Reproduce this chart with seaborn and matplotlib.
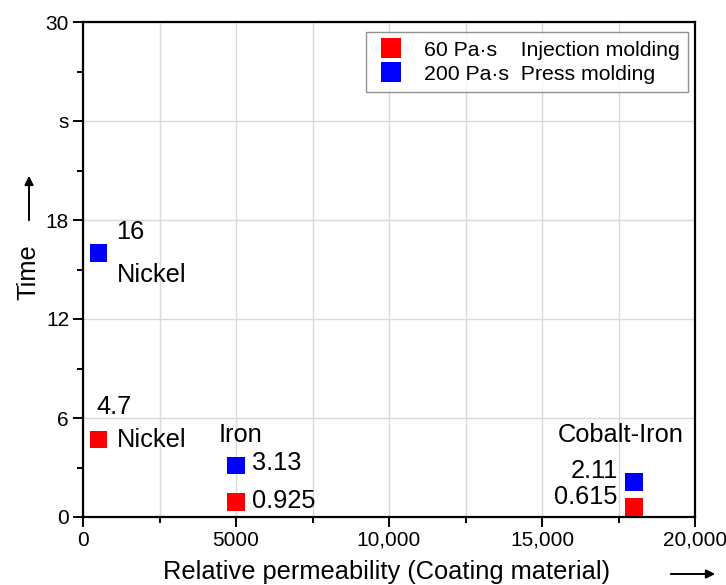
import matplotlib
matplotlib.use("Agg")
import matplotlib.pyplot as plt
import seaborn as sns
import pandas as pd
from matplotlib.ticker import FixedLocator, MultipleLocator

materials = ["Nickel", "Iron", "Cobalt-Iron"]
permeability = [500, 5000, 18000]
time_injection = [4.7, 0.925, 0.615]
time_press = [16, 3.13, 2.11]
series_labels = ["60 Pa·s    Injection molding", "200 Pa·s  Press molding"]
x_ticks = [0, 5000, 10000, 15000, 20000]
x_tick_labels = ["0", "5000", "10,000", "15,000", "20,000"]
y_ticks = [0, 6, 12, 18, 24, 30]
y_tick_labels = ["0", "6", "12", "18", "s", "30"]

df = pd.DataFrame({
    "perm": permeability * 2,
    "time": time_injection + time_press,
    "series": [series_labels[0]] * 3 + [series_labels[1]] * 3,
    "material": materials * 2,
})

sns.set_theme(style="white")
plt.rcParams["font.family"] = ["Liberation Sans", "DejaVu Sans"]
plt.rcParams["text.color"] = "black"
plt.rcParams["axes.labelcolor"] = "black"
plt.rcParams["xtick.color"] = "black"
plt.rcParams["ytick.color"] = "black"

fig = plt.figure(figsize=(7.26, 5.85), dpi=100)
ax = fig.add_axes([83/726, 1 - 517/585, (695-83)/726, (517-22)/585])

sns.scatterplot(data=df, x="perm", y="time", hue="series", marker="s", s=160,
                palette=["#ff0000", "#0000ff"], linewidth=0,
                ax=ax, zorder=3, clip_on=False)

ax.set_xlim(0, 20000)
ax.set_ylim(0, 30)
ax.xaxis.set_major_locator(FixedLocator(x_ticks))
ax.set_xticklabels(x_tick_labels)
ax.xaxis.set_minor_locator(MultipleLocator(2500))
ax.yaxis.set_major_locator(FixedLocator(y_ticks))
ax.set_yticklabels(y_tick_labels)
ax.yaxis.set_minor_locator(MultipleLocator(3))

ax.grid(True, which="major", axis="y", color="#d9d9d9", linewidth=1)
ax.grid(True, which="both", axis="x", color="#d9d9d9", linewidth=1)
ax.set_axisbelow(True)

for sp in ax.spines.values():
    sp.set_color("black")
    sp.set_linewidth(1.6)

ax.tick_params(axis="both", which="major", direction="out", length=7, width=1.4,
               labelsize=15, colors="black", pad=3)
ax.tick_params(axis="both", which="minor", direction="out", length=4, width=1.4,
               colors="black")
ax.tick_params(left=True, bottom=True, which="both")

ax.set_xlabel("")
ax.set_ylabel("")

fig.text(387/726, 1 - 572/585, "Relative permeability (Coating material)",
         ha="center", va="center", fontsize=18.3)
fig.text(28/726, 1 - 272/585, "Time", rotation=90, ha="center", va="center", fontsize=18.3)
fig.add_artist(matplotlib.patches.FancyArrowPatch(
    (668/726, 1 - 574/585), (718/726, 1 - 574/585), transform=fig.transFigure,
    arrowstyle="-|>", mutation_scale=13, color="black", linewidth=1.4))
fig.add_artist(matplotlib.patches.FancyArrowPatch(
    (29/726, 1 - 223/585), (29/726, 1 - 173/585), transform=fig.transFigure,
    arrowstyle="-|>", mutation_scale=13, color="black", linewidth=1.4))

fs = 18.3
def lab(txt, x, y, dx, dy, ha="left"):
    ax.annotate(txt, (x, y), xytext=(dx, dy), textcoords="offset pixels",
                ha=ha, va="center", fontsize=fs)

# Nickel
lab("16", permeability[0], time_press[0], 18, 21)
lab(materials[0], permeability[0], time_press[0], 19, -22)
lab("4.7", permeability[0], time_injection[0], -2, 32)
lab(materials[0], permeability[0], time_injection[0], 19, -1)
# Iron
lab(materials[1], permeability[1], time_press[1], -17, 30)
lab("3.13", permeability[1], time_press[1], 16, 2)
lab("0.925", permeability[1], time_injection[1], 16, 1)
# Cobalt-Iron
lab(materials[2], permeability[2], time_press[2], -76, 47)
lab("2.11", permeability[2], time_press[2], -16, 11, ha="right")
lab("0.615", permeability[2], time_injection[2], -16, 10, ha="right")

leg = ax.legend(loc="upper right", bbox_to_anchor=((688-83)/612, (517-32)/495),
                borderaxespad=0, frameon=True, fancybox=False,
                edgecolor="#777777", fontsize=15.3, handletextpad=0.75, borderpad=0.4,
                labelspacing=0.25, markerscale=1.15, title=None, handlelength=1.55)
leg.get_frame().set_linewidth(1.0)

fig.savefig("out.png", dpi=100)
